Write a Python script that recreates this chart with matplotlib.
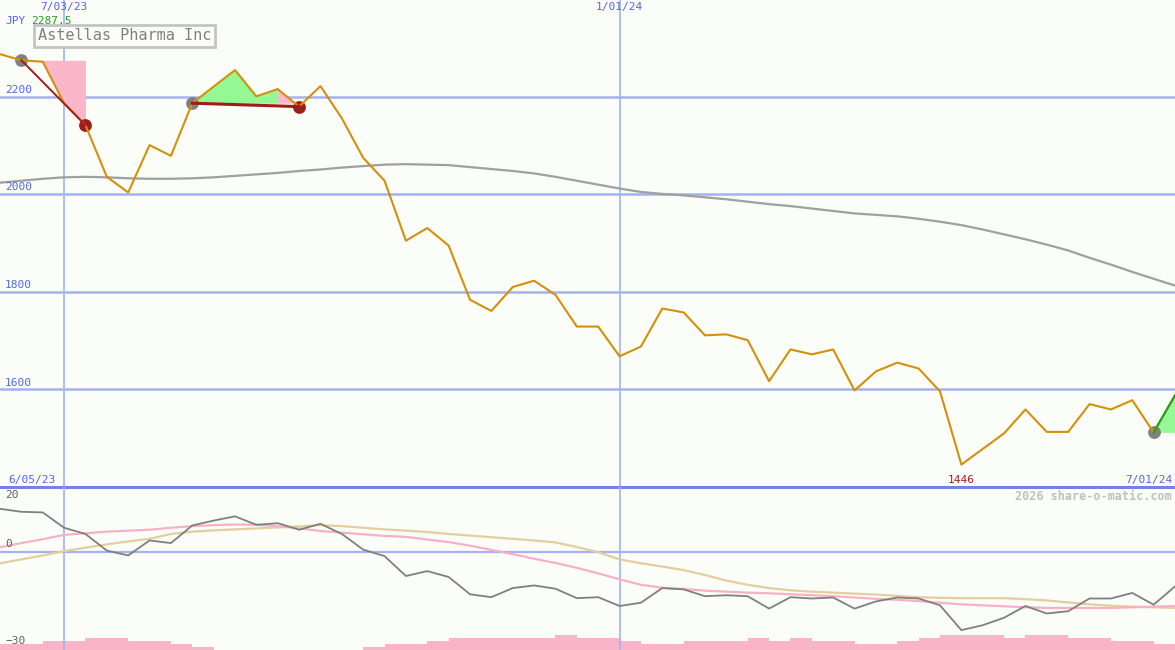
import numpy as np
import pandas as pd
import matplotlib
matplotlib.use("Agg")
import matplotlib.pyplot as plt
import matplotlib.transforms as mtransforms

# weekly closes, JPY
dates = pd.date_range("2023-06-12", periods=56, freq="7D")
price = [2287.5, 2275, 2272, 2187, 2142, 2036, 2004, 2101, 2079, 2187,
         2221, 2255, 2201, 2216, 2180, 2222, 2156, 2075, 2028, 1905,
         1931, 1895, 1784, 1761, 1810, 1823, 1794, 1729, 1729, 1668,
         1688, 1766, 1758, 1711, 1713, 1701, 1617, 1682, 1672, 1682,
         1598, 1637, 1655, 1643, 1596, 1446, 1478, 1510, 1559, 1513,
         1513, 1570, 1559, 1578, 1512, 1588]
ma_long = [2024, 2028, 2032, 2035, 2036, 2035, 2033, 2032, 2032, 2033,
           2035, 2038, 2041, 2044, 2048, 2051, 2055, 2058, 2061, 2062,
           2061, 2060, 2056, 2052, 2048, 2043, 2036, 2028, 2020, 2012,
           2005, 2001, 1998, 1994, 1990, 1985, 1980, 1976, 1971, 1966,
           1961, 1958, 1955, 1950, 1944, 1937, 1928, 1918, 1908, 1897,
           1885, 1870, 1856, 1841, 1827, 1813]

# lower panel
osc = [13.3, 12.4, 12.2, 7.5, 5.6, 0.5, -1.0, 3.6, 2.8, 8.2,
       9.7, 11.0, 8.4, 8.9, 6.9, 8.7, 5.6, 0.8, -1.2, -7.3,
       -5.8, -7.6, -12.9, -13.8, -11.0, -10.2, -11.2, -14.1, -13.8, -16.5,
       -15.5, -11.0, -11.4, -13.5, -13.2, -13.5, -17.3, -13.8, -14.2, -13.9,
       -17.3, -15.1, -13.9, -14.2, -16.3, -23.9, -22.4, -20.1, -16.5, -18.8,
       -18.1, -14.2, -14.2, -12.5, -16.1, -10.5]
osc_fast = [1.5, 2.8, 4.0, 5.3, 5.8, 6.3, 6.6, 6.9, 7.5, 8.0,
            8.3, 8.5, 8.4, 8.0, 7.3, 6.5, 6.0, 5.5, 5.0, 4.7,
            3.9, 3.1, 2.0, 0.7, -0.6, -2.0, -3.3, -4.8, -6.5, -8.3,
            -10.0, -10.9, -11.3, -11.8, -12.1, -12.4, -12.6, -12.9, -13.2, -13.5,
            -13.9, -14.3, -14.6, -15.0, -15.5, -16.0, -16.3, -16.6, -16.9, -17.1,
            -17.1, -17.1, -17.1, -16.9, -16.7, -16.5]
osc_slow = [-3.4, -2.2, -1.0, 0.3, 1.4, 2.4, 3.3, 4.1, 5.6, 6.3,
            6.7, 7.0, 7.3, 7.6, 7.9, 8.3, 8.0, 7.5, 7.0, 6.6,
            6.2, 5.6, 5.1, 4.6, 4.1, 3.6, 3.0, 1.6, 0.0, -2.2,
            -3.4, -4.4, -5.5, -7.0, -8.7, -10.0, -11.0, -11.7, -12.1, -12.4,
            -12.7, -13.0, -13.4, -13.8, -14.0, -14.1, -14.1, -14.1, -14.4, -14.8,
            -15.4, -16.0, -16.4, -16.7, -16.9, -17.1]
volume = [2, 2, 3, 3, 4, 4, 3, 3, 2, 1,
          0, 0, 0, 0, 0, 0, 0, 1, 2, 2,
          3, 4, 4, 4, 4, 4, 5, 4, 4, 3,
          2, 2, 3, 3, 3, 4, 3, 4, 3, 3,
          2, 2, 3, 4, 5, 5, 5, 4, 5, 5,
          4, 4, 3, 3, 2]

# signals: (entry index, exit index)
trades = [(1, 4), (9, 14)]
open_trade = 54

bg = "#fbfdf9"
grid_c = "#a4b2f2"
lab_c = "#5563ee"
gold = "#d4900a"
dred = "#a01c1c"
mono = "DejaVu Sans Mono"

fig = plt.figure(figsize=(11.75, 6.5), dpi=100, facecolor=bg)
ax = fig.add_axes([0, 163 / 650, 1, 487 / 650], facecolor=bg)
ax2 = fig.add_axes([0, 0, 1, 163 / 650], facecolor=bg)
axv = ax2.twinx()

for a in (ax, ax2, axv):
    a.set_xlim(dates[0], dates[-1])
    a.set_xticks([])
    a.set_yticks([])
    for s in a.spines.values():
        s.set_visible(False)

ax.set_ylim(1400, 2398.6)
ax2.set_ylim(-30, 20)
axv.set_ylim(0, 54)

mark_dates = [pd.Timestamp("2023-07-03"), pd.Timestamp("2024-01-01")]
for lvl in [1600, 1800, 2000, 2200]:
    ax.axhline(lvl, color=grid_c, lw=1.8, zorder=1)
for d in mark_dates:
    ax.axvline(d, color=grid_c, lw=1.2, zorder=1)
    ax2.axvline(d, color=grid_c, lw=1.2, zorder=1)
ax2.axhline(0, color=grid_c, lw=1.6, zorder=1)
ax.axhline(1400, color="#7382ea", lw=2.2, zorder=5, clip_on=False)

ax.plot(dates, ma_long, color="#a0a0a0", lw=1.6, zorder=2)

p = np.array(price)
for i0, i1 in trades:
    seg = slice(i0, i1 + 1)
    base = p[i0]
    if p[i1] < base and i1 - i0 < 4:
        ax.fill_between(dates[seg], p[seg], base, color="#fbb6ca", lw=0, zorder=2)
    else:
        ax.fill_between(dates[i0:i1], p[i0:i1], base, color="#94f894", lw=0, zorder=2)
        ax.fill_between(dates[i1 - 1:i1 + 1], p[i1 - 1:i1 + 1], base,
                        color="#fbb6ca", lw=0, zorder=2)
    ax.plot([dates[i0], dates[i1]], [p[i0], p[i1]], color=dred,
            lw=1.4 if i1 - i0 < 4 else 2.2, zorder=4)
ax.fill_between(dates[open_trade:], p[open_trade:], p[open_trade],
                color="#94f894", lw=0, zorder=2)

for i0, i1 in trades:
    ax.scatter(dates[i0], p[i0], s=85, color="#808080", zorder=2.5, lw=0)
    ax.scatter(dates[i1], p[i1], s=85, color=dred, zorder=2.5, lw=0)
ax.scatter(dates[open_trade], p[open_trade], s=85, color="#808080", zorder=2.5, lw=0)

ax.plot(dates, price, color=gold, lw=1.5, zorder=3)
ax.plot(dates[open_trade:], price[open_trade:], color="#22a022", lw=1.5, zorder=4)

# lower panel lines and volume
axv.bar(dates[:-1], volume, width=7, align="edge", color="#f9b4c9", lw=0, zorder=1)
axv.set_zorder(0)
ax2.set_zorder(1)
ax2.patch.set_visible(False)
axv.patch.set_facecolor(bg)
ax2.plot(dates, osc_slow, color="#e3cf9e", lw=1.6, zorder=2)
ax2.plot(dates, osc_fast, color="#f8b0c8", lw=1.6, zorder=2)
ax2.plot(dates, osc, color="#808080", lw=1.3, zorder=3)

# texts
yt = mtransforms.blended_transform_factory(ax.transAxes, ax.transData)
for lvl in [1600, 1800, 2000, 2200]:
    ax.text(5 / 1175, lvl + 4, str(lvl), transform=yt, color=lab_c,
            fontsize=8, family=mono, va="bottom", ha="left")
xt = ax.get_xaxis_transform()
for d, lab in zip(mark_dates, ["7/03/23", "1/01/24"]):
    ax.text(d, 1 - 2 / 487, lab, transform=xt, color=lab_c, fontsize=8,
            family=mono, ha="center", va="top")
ax.text(5 / 1175, 1 - 16 / 487, "JPY", transform=ax.transAxes, color=lab_c,
        fontsize=8, family=mono, va="top")
ax.text(31 / 1175, 1 - 16 / 487, "2287.5", transform=ax.transAxes,
        color="#22a022", fontsize=8, family=mono, va="top")
ax.text(38 / 1175, 1 - 36 / 487, "Astellas Pharma Inc", transform=ax.transAxes,
        color="#808080", fontsize=11, family=mono, va="center",
        bbox=dict(boxstyle="square,pad=0.25", fc=bg, ec="#c4c4c4", lw=2))
ax.text(8 / 1175, 2 / 487, "6/05/23", transform=ax.transAxes, color=lab_c,
        fontsize=8, family=mono, va="bottom")
ax.text(1 - 3 / 1175, 2 / 487, "7/01/24", transform=ax.transAxes, color=lab_c,
        fontsize=8, family=mono, va="bottom", ha="right")
ax.text(dates[int(np.argmin(p))], 2 / 487, str(int(min(price))), transform=xt,
        color=dred, fontsize=8, family=mono, va="bottom", ha="center")

ax2.text(1 - 3 / 1175, 1 - 3 / 163, "2026 share-o-matic.com",
         transform=ax2.transAxes, color="#c0c0c0", fontsize=8.5, family=mono,
         fontweight="bold", va="top", ha="right")
yt2 = mtransforms.blended_transform_factory(ax2.transAxes, ax2.transData)
ax2.text(5 / 1175, 20 - 3 / 3.27, "20", transform=yt2, color="#606060",
         fontsize=8, family=mono, va="top")
ax2.text(5 / 1175, 1, "0", transform=yt2, color="#606060", fontsize=8,
         family=mono, va="bottom")
ax2.text(5 / 1175, -30 + 4 / 3.27, "\u221230", transform=yt2, color="#606060",
         fontsize=8, family=mono, va="bottom")

fig.savefig("out.png", dpi=100, facecolor=bg)
